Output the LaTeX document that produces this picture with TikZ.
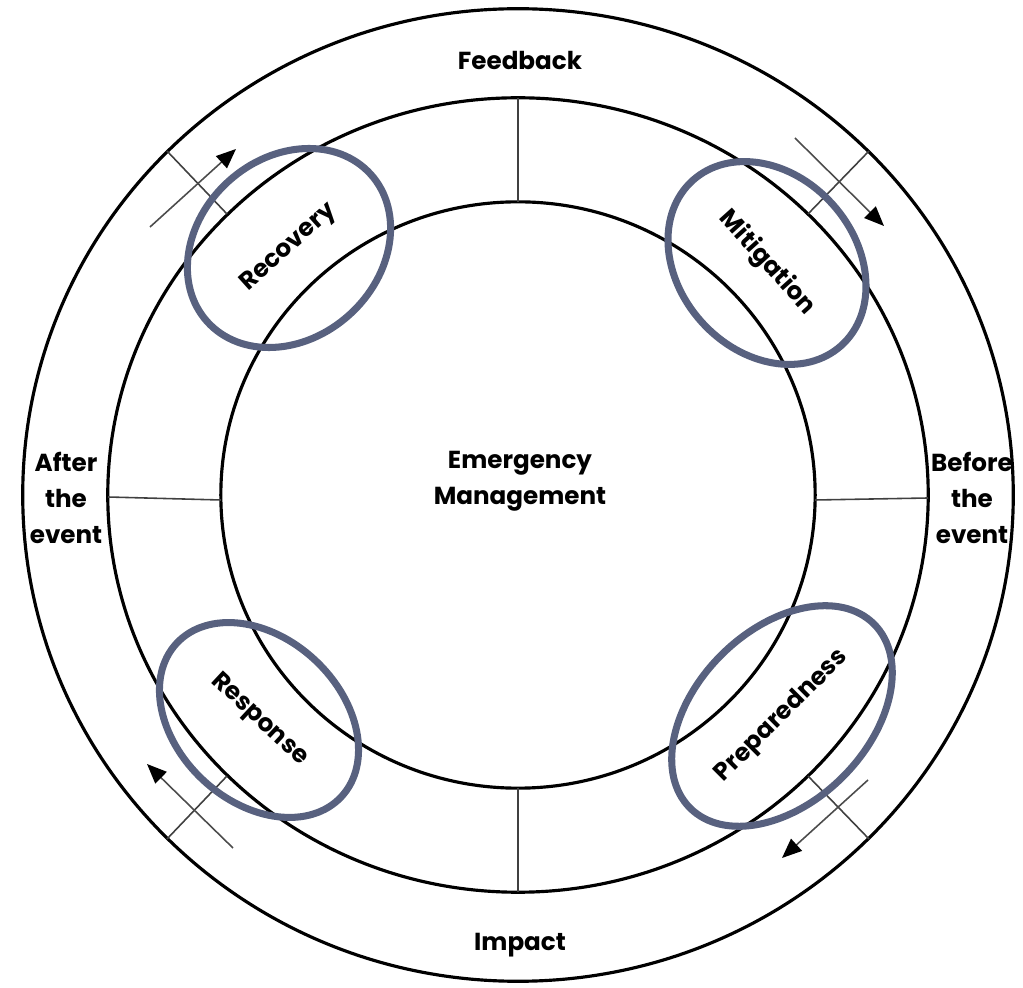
\documentclass[tikz,border=0pt]{standalone}
\usepackage{fontspec}
\setmainfont{Poppins}
\usepackage{tikz}
\usetikzlibrary{shapes.geometric, arrows.meta}
\definecolor{phaseblue}{RGB}{88,97,127}

\begin{document}
\begin{tikzpicture}[x=0.01cm, y=-0.01cm, every node/.style={font=\fontsize{7}{10.2}\selectfont\bfseries, align=center}]
			\tikzstyle{ring}=[draw=black, line width=0.9pt]
			\tikzstyle{spoke}=[draw=black!75, line width=0.45pt]
			\tikzstyle{phase}=[ellipse, draw=phaseblue, line width=2pt, inner sep=0pt]
			\tikzstyle{flow}=[draw=black!70, line width=0.45pt, -{Triangle[length=5.6pt, width=4.6pt, color=black]}]
			
			\useasboundingbox (0,0) rectangle (1023,988);
			
			\coordinate (c) at (518,495);
			\draw [ring] (c) ellipse (4.95cm and 4.86cm);
			\draw [ring] (c) ellipse (4.10cm and 3.97cm);
			\draw [ring] (c) ellipse (2.97cm and 2.93cm);
			
			\draw [spoke] (518,98) -- (518,202);
			\draw [spoke] (518,788) -- (518,892);
			\draw [spoke] (108,497) -- (221,500);
			\draw [spoke] (815,500) -- (928,498);
			
			%% ticks across the outer ring
			\draw [spoke] (167,151) -- (227,214);
			\draw [spoke] (869,151) -- (808,214);
			\draw [spoke] (869,839) -- (808,776);
			\draw [spoke] (167,839) -- (227,776);
			
			\coordinate (recA) at (150,227);
			\coordinate (recB) at (236,149);
			\coordinate (mitA) at (795,138);
			\coordinate (mitB) at (884,226);
			\coordinate (preA) at (868,780);
			\coordinate (preB) at (782,858);
			\coordinate (resA) at (233,848);
			\coordinate (resB) at (147,764);
			
			\draw [flow] (recA) -- (recB);
			\draw [flow] (mitA) -- (mitB);
			\draw [flow] (preA) -- (preB);
			\draw [flow] (resA) -- (resB);
			
			\node (feedback) at (520,60) {Feedback};
			\node (impact) at (520,945) {Impact};
			\node (after) at (66,498) {After\\the\\event};
			\node (before) at (972,498) {Before\\the\\event};
			\node (em) at (520,481) {Emergency\\Management};
			
			\node (rec) at (289,248) [phase, rotate=42, minimum width=2.2cm, minimum height=1.8cm] {Recovery};
			\node (mit) at (767,263) [phase, rotate=-48, minimum width=2.22cm, minimum height=1.76cm] {Mitigation};
			\node (res) at (259,720) [phase, rotate=-43, minimum width=2.25cm, minimum height=1.64cm] {Response};
			\node (pre) at (782,716) [phase, rotate=45, minimum width=2.6cm, minimum height=1.72cm] {Preparedness};
\end{tikzpicture}
\end{document}
